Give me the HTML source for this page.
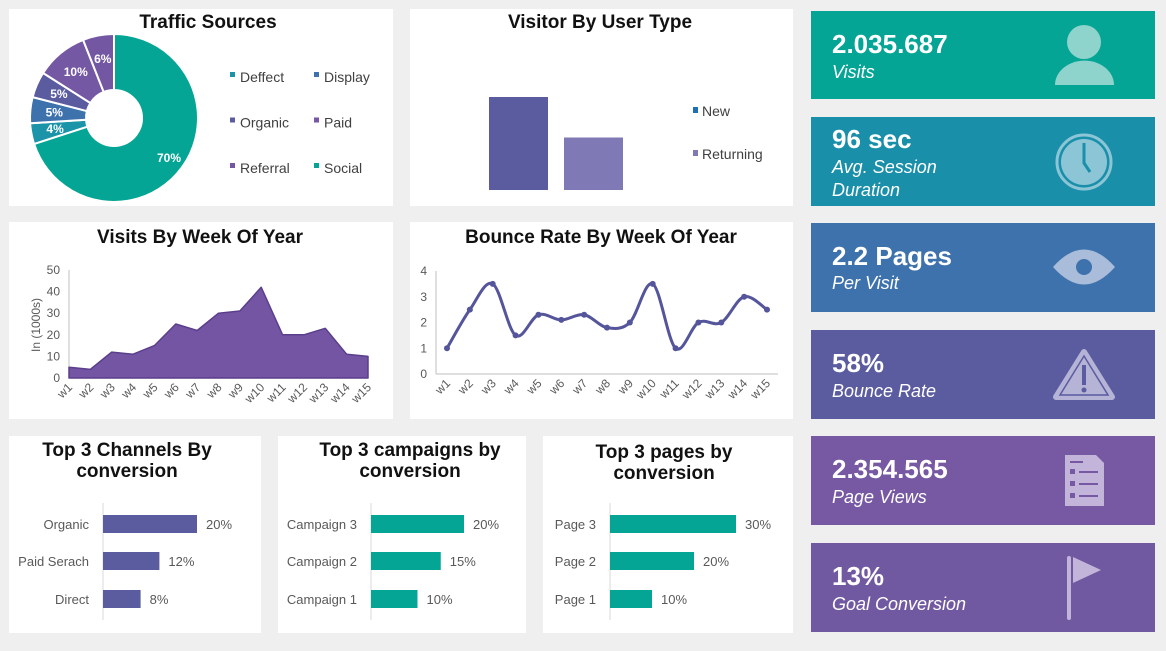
<!DOCTYPE html>
<html><head><meta charset="utf-8"><style>
html,body{margin:0;padding:0;background:#efefef;}
svg{display:block;font-family:"Liberation Sans",Arial,sans-serif;}
.t{font-weight:bold;font-size:19px;fill:#111;text-anchor:middle;}
.lg{font-size:14px;fill:#404040;}
.ax{font-size:12px;fill:#595959;}
.kv{font-weight:bold;font-size:26px;fill:#fff;}
.kl{font-style:italic;font-size:18px;fill:#fff;}
.bl{font-size:13px;fill:#595959;}
</style></head><body>
<svg id="s" width="1166" height="651" viewBox="0 0 1166 651">
<rect width="1166" height="651" fill="#efefef"/>
<g id="panels">
<rect x="9" y="9" width="384" height="197" fill="#fff"/>
<rect x="410" y="9" width="383" height="197" fill="#fff"/>
<rect x="9" y="222" width="384" height="197" fill="#fff"/>
<rect x="410" y="222" width="383" height="197" fill="#fff"/>
<rect x="9" y="436" width="252" height="197" fill="#fff"/>
<rect x="278" y="436" width="248" height="197" fill="#fff"/>
<rect x="543" y="436" width="250" height="197" fill="#fff"/>
</g>
<text class="t" x="208" y="28">Traffic Sources</text>
<text class="t" x="600" y="28">Visitor By User Type</text>
<text class="t" x="200" y="243">Visits By Week Of Year</text>
<text class="t" x="601" y="243">Bounce Rate By Week Of Year</text>
<text class="t" x="127" y="456">Top 3 Channels By<tspan x="127" dy="21">conversion</tspan></text>
<text class="t" x="410" y="456">Top 3 campaigns by<tspan x="410" dy="21">conversion</tspan></text>
<text class="t" x="664" y="458">Top 3 pages by<tspan x="664" dy="21">conversion</tspan></text>

<!-- KPI cards -->
<g>
<rect x="811" y="11" width="344" height="88" fill="#05a595"/>
<text class="kv" x="832" y="53">2.035.687</text><text class="kl" x="832" y="78">Visits</text>
<circle cx="1084" cy="42" r="17" fill="#8fd4cc"/><path d="M1055 85 A29 24 0 0 1 1114 85 Z" fill="#8fd4cc"/>
</g>
<g>
<rect x="811" y="117" width="344" height="89" fill="#1a8faa"/>
<text class="kv" x="832" y="148">96 sec</text><text class="kl" x="832" y="173">Avg. Session</text><text class="kl" x="832" y="196">Duration</text>
<circle cx="1084" cy="162" r="27" fill="none" stroke="#8cc6d6" stroke-width="3"/><circle cx="1084" cy="162" r="23" fill="#8cc6d6"/>
<path d="M1084 143 V163 L1090 172" stroke="#1a8faa" stroke-width="3" fill="none"/>
</g>
<g>
<rect x="811" y="223" width="344" height="89" fill="#3d72ad"/>
<text class="kv" x="832" y="265">2.2 Pages</text><text class="kl" x="832" y="289">Per Visit</text>
<path d="M1053 267 Q1084 232 1115 267 Q1084 302 1053 267 Z" fill="#a9bcd9"/><circle cx="1084" cy="267" r="8" fill="#3d72ad"/>
</g>
<g>
<rect x="811" y="330" width="344" height="89" fill="#5b5ba0"/>
<text class="kv" x="832" y="372">58%</text><text class="kl" x="832" y="397">Bounce Rate</text>
<path d="M1084 352 L1112 397 L1056 397 Z" fill="#b5b3d6" stroke="#b5b3d6" stroke-width="6" stroke-linejoin="round"/>
<path d="M1084 356 L1108 395 L1060 395 Z" fill="none" stroke="#5b5ba0" stroke-width="1.5"/>
<rect x="1082" y="365" width="4" height="20" fill="#5b5ba0"/><circle cx="1084" cy="390" r="2.5" fill="#5b5ba0"/>
</g>
<g>
<rect x="811" y="436" width="344" height="89" fill="#7658a3"/>
<text class="kv" x="832" y="478">2.354.565</text><text class="kl" x="832" y="503">Page Views</text>
<path d="M1065 455 H1096 L1104 463 V506 H1065 Z" fill="#c2b5d9"/>
<g stroke="#7658a3" stroke-width="2"><line x1="1070" y1="462" x2="1083" y2="462"/><line x1="1079" y1="472" x2="1098" y2="472"/><line x1="1079" y1="484" x2="1098" y2="484"/><line x1="1079" y1="496" x2="1098" y2="496"/></g>
<g fill="#7658a3"><rect x="1070" y="469" width="5" height="5"/><rect x="1070" y="481" width="5" height="5"/><rect x="1070" y="493" width="5" height="5"/></g>
</g>
<g>
<rect x="811" y="543" width="344" height="89" fill="#7159a2"/>
<text class="kv" x="832" y="585">13%</text><text class="kl" x="832" y="610">Goal Conversion</text>
<rect x="1067" y="556" width="4" height="64" rx="2" fill="#c2b5d9"/><path d="M1073 557 L1101 570 L1073 583 Z" fill="#c2b5d9"/>
</g>
<g id="charts"></g>
</svg>
<script>
// Traffic sources
const srcNames=["Social","Deffect","Display","Organic","Paid","Referral"];
const srcVals=[70,4,5,5,10,6];
const legendNames=["Deffect","Display","Organic","Paid","Referral","Social"];
// Visitor type
const userTypes=["New","Returning"];
const userVals=[62,35];
// Visits by week
const weeks=["w1","w2","w3","w4","w5","w6","w7","w8","w9","w10","w11","w12","w13","w14","w15"];
const visitVals=[5,4,12,11,15,25,22,30,31,42,20,20,23,11,10];
const visitTicks=[0,10,20,30,40,50];
// Bounce rate
const bounceVals=[1,2.5,3.5,1.5,2.3,2.1,2.3,1.8,2.0,3.5,1.0,2.0,2.0,3.0,2.5];
const bounceTicks=[0,1,2,3,4];
// Top 3
const chanNames=["Organic","Paid Serach","Direct"];
const chanVals=[20,12,8];
const campNames=["Campaign 3","Campaign 2","Campaign 1"];
const campVals=[20,15,10];
const pageNames=["Page 3","Page 2","Page 1"];
const pageVals=[30,20,10];

const NS="http://www.w3.org/2000/svg";
const root=document.getElementById("charts");
function mk(tag,attrs,parent){const e=document.createElementNS(NS,tag);for(const k in attrs)e.setAttribute(k,attrs[k]);(parent||root).appendChild(e);return e;}
const colors={Social:"#05a595",Deffect:"#1b93a8",Display:"#3d72ad",Organic:"#5b5ba0",Paid:"#7558a3",Referral:"#7357a3"};

// Donut
(function(){
  const cx=114,cy=118,R=84,r=28;const total=srcVals.reduce((a,b)=>a+b,0);
  let a0=0;
  srcVals.forEach((v,i)=>{
    const a1=a0+v/total*Math.PI*2;
    const p=(a,rad)=>[cx+rad*Math.sin(a),cy-rad*Math.cos(a)];
    const [x0,y0]=p(a0,R),[x1,y1]=p(a1,R),[x2,y2]=p(a1,r),[x3,y3]=p(a0,r);
    const lg=(a1-a0)>Math.PI?1:0;
    const s=mk("path",{d:`M${x0} ${y0} A${R} ${R} 0 ${lg} 1 ${x1} ${y1} L${x2} ${y2} A${r} ${r} 0 ${lg} 0 ${x3} ${y3} Z`,fill:colors[srcNames[i]],stroke:"#fff","stroke-width":2});
    
    
    const am=(a0+a1)/2;const lr=v>20?(R+r)/2+12:(R+r)/2+4;const [lx,ly]=p(am,lr);
    const t=mk("text",{x:lx,y:ly+4,"text-anchor":"middle","font-size":12,"font-weight":"bold",fill:"#fff"});
    t.textContent=v+"%";
    
    
    a0=a1;
  });
  legendNames.forEach((n,i)=>{
    const x=i%2?314:230,y=78+Math.floor(i/2)*45.5;
    const g=mk("g",{});
    
    
    mk("rect",{x:x,y:y-6,width:5,height:5,fill:colors[n]},g);
    const t=mk("text",{x:x+10,y:y+4,class:"lg"},g);t.textContent=n;
  });
})();

// Visitor bars
(function(){
  const base=190,k=1.5,xs=[489,564],w=59,cols=["#5b5ba0","#7f7ab5"];
  userVals.forEach((v,i)=>{
    const b=mk("rect",{x:xs[i],y:base-v*k,width:w,height:v*k,fill:cols[i]});
    
    
    const g=mk("g",{});
    
    
    const y=112+i*43;
    mk("rect",{x:693,y:y-5,width:5,height:6,fill:i?"#7f7ab5":"#1f6fb5"},g);
    const t=mk("text",{x:702,y:y+4,class:"lg","font-size":13},g);t.textContent=userTypes[i];
  });
})();

// Visits area
(function(){
  const x0=69,x1=368,yb=378,yt=270,vmax=50;
  const X=i=>x0+i*(x1-x0)/(weeks.length-1),Y=v=>yb-(v/vmax)*(yb-yt);
  mk("line",{x1:x0,y1:yt,x2:x0,y2:yb,stroke:"#bfbfbf"});
  mk("line",{x1:x0,y1:yb,x2:x1,y2:yb,stroke:"#bfbfbf"});
  visitTicks.forEach(v=>{const t=mk("text",{x:x0-9,y:Y(v)+4,class:"ax","text-anchor":"end"});t.textContent=v;
    });
  let d=`M${X(0)} ${yb}`;visitVals.forEach((v,i)=>d+=` L${X(i)} ${Y(v)}`);d+=` L${X(visitVals.length-1)} ${yb} Z`;
  const a=mk("path",{d:d,fill:"#7355a3",stroke:"#5a3f8c","stroke-width":1.5,"stroke-linejoin":"round"});
  
  weeks.forEach((w,i)=>{const t=mk("text",{x:X(i)+4,y:yb+10,class:"ax","text-anchor":"end",transform:`rotate(-45 ${X(i)+4} ${yb+10})`});t.textContent=w;
    });
  const yl=mk("text",{x:40,y:325,class:"ax","text-anchor":"middle",transform:"rotate(-90 40 325)"});yl.textContent="In (1000s)";
  
})();

// Bounce line
(function(){
  const ax=436,x0=447,x1=767,yb=374,yt=271,vmax=4;
  const X=i=>x0+i*(x1-x0)/(weeks.length-1),Y=v=>yb-(v/vmax)*(yb-yt);
  mk("line",{x1:ax,y1:yt,x2:ax,y2:yb,stroke:"#bfbfbf"});
  mk("line",{x1:ax,y1:yb,x2:778,y2:yb,stroke:"#bfbfbf"});
  bounceTicks.forEach(v=>{const t=mk("text",{x:ax-9,y:Y(v)+4,class:"ax","text-anchor":"end"});t.textContent=v;
    });
  const P=bounceVals.map((v,i)=>[X(i),Y(v)]);
  let d=`M${P[0][0]} ${P[0][1]}`;
  for(let i=0;i<P.length-1;i++){const p0=P[i-1]||P[i],p1=P[i],p2=P[i+1],p3=P[i+2]||P[i+1];
    const c1=[p1[0]+(p2[0]-p0[0])/6,p1[1]+(p2[1]-p0[1])/6],c2=[p2[0]-(p3[0]-p1[0])/6,p2[1]-(p3[1]-p1[1])/6];
    d+=` C${c1[0]} ${c1[1]} ${c2[0]} ${c2[1]} ${p2[0]} ${p2[1]}`;}
  const l=mk("path",{d:d,fill:"none",stroke:"#55559b","stroke-width":3});
  
  P.forEach((p,i)=>{const c=mk("circle",{cx:p[0],cy:p[1],r:3,fill:"#55559b"});
    });
  weeks.forEach((w,i)=>{const t=mk("text",{x:X(i)+4,y:yb+10,class:"ax","text-anchor":"end",transform:`rotate(-45 ${X(i)+4} ${yb+10})`});t.textContent=w;
    });
})();

// Horizontal bars
function hbar(names,vals,axX,k,color,key){
  const ys=[515,552,590],h=18;
  mk("line",{x1:axX,y1:503,x2:axX,y2:620,stroke:"#d9d9d9"});
  vals.forEach((v,i)=>{
    const b=mk("rect",{x:axX,y:ys[i],width:v*k,height:h,fill:color});
    
    const l=mk("text",{x:axX-14,y:ys[i]+14,class:"bl","text-anchor":"end"});l.textContent=names[i];
    
    const vl=mk("text",{x:axX+v*k+9,y:ys[i]+14,class:"bl"});vl.textContent=v+"%";
    
  });
}
hbar(chanNames,chanVals,103,4.7,"#5b5ba0","channel");
hbar(campNames,campVals,371,4.65,"#05a595","campaign");
hbar(pageNames,pageVals,610,4.2,"#05a595","page");
</script>
</body></html>
